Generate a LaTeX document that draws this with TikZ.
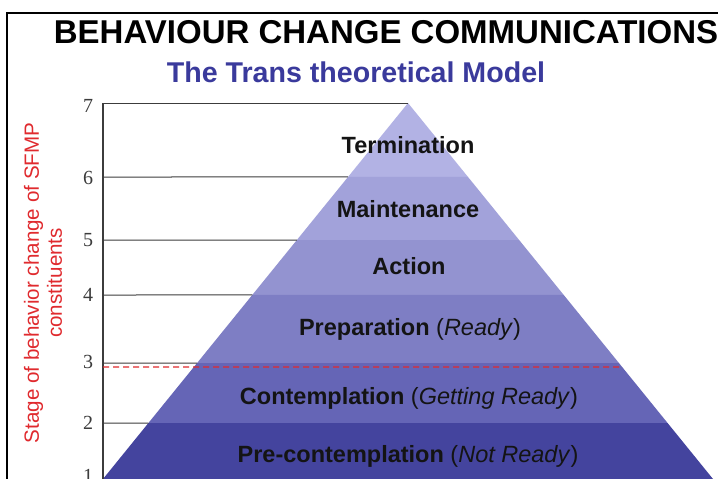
\documentclass[tikz,border=0pt]{standalone}
\usepackage{fontspec}
\setmainfont{Liberation Sans}
\newfontfamily\numfont{Liberation Serif}
\usetikzlibrary{calc}
\definecolor{bandT}{HTML}{B2B2E4}
\definecolor{bandM}{HTML}{A2A2DA}
\definecolor{bandA}{HTML}{9393D0}
\definecolor{bandP}{HTML}{7E7EC4}
\definecolor{bandC}{HTML}{6565B6}
\definecolor{bandPC}{HTML}{44449E}
\definecolor{subblue}{HTML}{3A3A9C}
\definecolor{axisred}{HTML}{E02A2E}
\definecolor{txt}{HTML}{141414}
\definecolor{gridgray}{HTML}{3C3C3C}
\begin{document}
\begin{tikzpicture}[x=1pt,y=-1pt,
  gridline/.style={draw=gridgray,line width=1pt},
  axisline/.style={draw=gridgray,line width=1.6pt},
  redcut/.style={draw=axisred,line width=1.4pt,dash pattern=on 6pt off 4pt},
  num/.style={inner sep=0pt,text=gridgray,font=\numfont\fontsize{20}{22}\selectfont},
  lbl/.style={inner sep=0pt,anchor=base,text=txt,font=\fontsize{23.5}{28}\selectfont\bfseries}]
\clip (0,0) rectangle (718,479);
\fill[white] (0,0) rectangle (718,479);
% pyramid geometry
\coordinate (A) at (408,103);
\coordinate (BL) at (103,479);
\coordinate (BR) at (713,479);
\coordinate (L6) at ($(A)!0.1968!(BL)$); \coordinate (R6) at ($(A)!0.1968!(BR)$);
\coordinate (L5) at ($(A)!0.3644!(BL)$); \coordinate (R5) at ($(A)!0.3644!(BR)$);
\coordinate (L4) at ($(A)!0.5106!(BL)$); \coordinate (R4) at ($(A)!0.5106!(BR)$);
\coordinate (L3) at ($(A)!0.6915!(BL)$); \coordinate (R3) at ($(A)!0.6915!(BR)$);
\coordinate (L2) at ($(A)!0.8511!(BL)$); \coordinate (R2) at ($(A)!0.8511!(BR)$);
\coordinate (RD) at ($(A)!0.7021!(BR)$);
% axis points
\coordinate (Y7) at (103,103);
\coordinate (Y6) at (103,177);
\coordinate (Y5) at (103,240);
\coordinate (Y4) at (103,295);
\coordinate (Y3) at (103,363);
\coordinate (Y2) at (103,423);
\coordinate (Y1) at (103,479);
\coordinate (D3) at (103,367);
% bands
\fill[bandT] (A) -- (L6) -- (R6) -- cycle;
\fill[bandM] (L6) -- (L5) -- (R5) -- (R6) -- cycle;
\fill[bandA] (L5) -- (L4) -- (R4) -- (R5) -- cycle;
\fill[bandP] (L4) -- (L3) -- (R3) -- (R4) -- cycle;
\fill[bandC] (L3) -- (L2) -- (R2) -- (R3) -- cycle;
\fill[bandPC] (L2) -- (BL) -- (BR) -- (R2) -- cycle;
% grid lines
\draw[gridline] (Y7) -- (A);
\draw[gridline] (Y6) -- (L6);
\draw[gridline] (Y5) -- (L5);
\draw[gridline] (Y4) -- (L4);
\draw[gridline] (Y3) -- (L3);
\draw[gridline] (Y2) -- (L2);
\draw[axisline] (Y7) -- (Y1);
\draw[redcut] (D3) -- (RD);
% frame
\coordinate (FTR) at (718,13);
\coordinate (FTL) at (7,13);
\coordinate (FBL) at (7,479);
\draw[black,line width=2pt] (FTR) -- (FTL) -- (FBL);
% numbers
\node[num] (n7) at (88,106) {7};
\node[num] (n6) at (88,178) {6};
\node[num] (n5) at (88,240) {5};
\node[num] (n4) at (88,295) {4};
\node[num] (n3) at (88,362) {3};
\node[num] (n2) at (88,423) {2};
\node[num] (n1) at (88,476) {1};
% titles
\node[inner sep=0pt,anchor=base,text=black,font=\fontsize{33}{38}\selectfont\bfseries] (title) at (386,43) {BEHAVIOUR CHANGE COMMUNICATIONS};
\node[inner sep=0pt,anchor=base,text=subblue,font=\fontsize{28.6}{32}\selectfont\bfseries] (sub) at (356,82) {The Trans theoretical Model};
% y label
\node[rotate=90,align=center,inner sep=0pt,text=axisred,font=\fontsize{20.6}{23}\selectfont] (ylab) at (43,283) {Stage of behavior change of SFMP\\constituents};
% stage labels
\node[lbl] (term) at (408,153) {Termination};
\node[lbl] (main) at (408,217) {Maintenance};
\node[lbl] (act) at (409,274) {Action};
\node[lbl] (prep) at (410,335) {Preparation \mdseries(\textit{Ready})};
\node[lbl] (cont) at (409,404) {Contemplation \mdseries(\textit{Getting Ready})};
\node[lbl] (prec) at (408,462) {Pre-contemplation \mdseries(\textit{Not Ready})};
\end{tikzpicture}
\end{document}
